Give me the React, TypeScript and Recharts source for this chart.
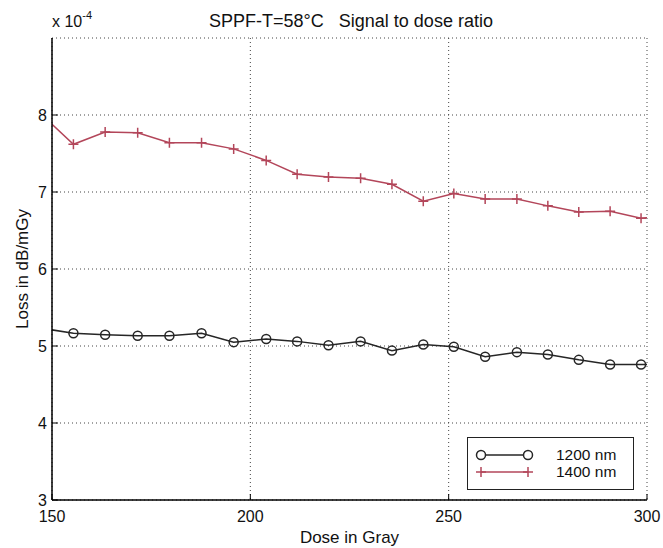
import {
  LineChart,
  Line,
  XAxis,
  YAxis,
  CartesianGrid,
  Legend,
} from "recharts";

// dose in Gray (first and last points sit just outside the axis limits and get clipped)
const dose = [
  147.5, 155.4, 163.4, 171.6, 179.6, 187.7, 195.8, 204.0, 211.8, 219.7, 227.8,
  235.7, 243.6, 251.3, 259.2, 267.2, 275.0, 282.8, 290.7, 298.5, 306,
];
// loss in dB/mGy, x 1e-4
const loss1200 = [
  5.23, 5.165, 5.147, 5.134, 5.134, 5.165, 5.05, 5.09, 5.06, 5.01, 5.06, 4.94,
  5.02, 4.99, 4.86, 4.92, 4.89, 4.82, 4.76, 4.76, 4.76,
];
const loss1400 = [
  8.0, 7.62, 7.78, 7.77, 7.64, 7.64, 7.56, 7.41, 7.23, 7.195, 7.18, 7.1, 6.88,
  6.98, 6.91, 6.91, 6.82, 6.74, 6.75, 6.66, 6.68,
];
const seriesNames = ["1200 nm", "1400 nm"];
const xTicks = [150, 200, 250, 300];
const yTicks = [3, 4, 5, 6, 7, 8];

const TITLE = "SPPF-T=58°C   Signal to dose ratio";
const FONT = "'Liberation Sans', Arial, Helvetica, sans-serif";
const RED = "#b3465a";
const DARK = "#262626";

const data = dose.map((d, i) => ({
  dose: d,
  nm1200: loss1200[i],
  nm1400: loss1400[i],
}));

const makeTick = (side: "bottom" | "top" | "left" | "right", showLabel: boolean) =>
  (props: any) => {
    const { x, y, payload } = props;
    let line;
    if (side === "bottom") line = <line x1={x} y1={y} x2={x} y2={y - 6} stroke="#000" />;
    else if (side === "top") line = <line x1={x} y1={y} x2={x} y2={y + 6} stroke="#000" />;
    else if (side === "left") line = <line x1={x} y1={y} x2={x + 6} y2={y} stroke="#000" />;
    else line = <line x1={x} y1={y} x2={x - 6} y2={y} stroke="#000" />;
    return (
      <g>
        {line}
        {showLabel && side === "bottom" && (
          <text x={x} y={y + 22} textAnchor="middle" fontSize={16} fill="#111">
            {payload.value}
          </text>
        )}
        {showLabel && side === "left" && (
          <text x={x - 5} y={y} dy="0.36em" textAnchor="end" fontSize={16} fill="#111">
            {payload.value}
          </text>
        )}
      </g>
    );
  };

const CircleDot = (p: any) => {
  if (p.cx == null || p.cy == null) return <g key={p.key} />;
  return (
    <circle key={p.key} cx={p.cx} cy={p.cy} r={4.5} fill="none" stroke={DARK} strokeWidth={1.5} />
  );
};

const PlusDot = (p: any) => {
  if (p.cx == null || p.cy == null) return <g key={p.key} />;
  return (
    <path
      key={p.key}
      d={`M${p.cx - 5},${p.cy}h10M${p.cx},${p.cy - 5}v10`}
      stroke={RED}
      strokeWidth={1.5}
    />
  );
};

const LegendBox = () => (
  <div
    style={{
      width: 167,
      height: 53,
      boxSizing: "border-box",
      border: "1.5px solid #222",
      background: "#fff",
      fontFamily: FONT,
      fontSize: 15.5,
      color: "#111",
      paddingTop: 8,
    }}
  >
    {seriesNames.map((name, i) => (
      <div key={name} style={{ display: "flex", alignItems: "center", height: 17 }}>
        <svg width={88} height={17} style={{ flex: "none" }}>
          {i === 0 ? (
            <g>
              <line x1={13} y1={9} x2={60} y2={9} stroke={DARK} strokeWidth={1.5} />
              <circle cx={13} cy={9} r={4.5} fill="#fff" stroke={DARK} strokeWidth={1.5} />
              <circle cx={60} cy={9} r={4.5} fill="#fff" stroke={DARK} strokeWidth={1.5} />
            </g>
          ) : (
            <g stroke={RED} strokeWidth={1.5}>
              <line x1={13} y1={9} x2={60} y2={9} />
              <path d="M8,9h10M13,4v10M55,9h10M60,4v10" />
            </g>
          )}
        </svg>
        <span style={{ lineHeight: "17px", whiteSpace: "nowrap" }}>{name}</span>
      </div>
    ))}
  </div>
);

export default function App() {
  return (
    <div
      style={{
        position: "absolute",
        left: 0,
        top: 0,
        width: 663,
        height: 548,
        background: "#fff",
        fontFamily: FONT,
      }}
    >
      <LineChart
        width={663}
        height={548}
        data={data}
        margin={{ top: 38, right: 16, left: 0, bottom: 0 }}
      >
        <CartesianGrid stroke="#444" strokeDasharray="1 3" strokeWidth={1} />
        <XAxis
          dataKey="dose"
          type="number"
          domain={[150, 300]}
          ticks={xTicks}
          allowDataOverflow
          height={48}
          tickSize={0}
          tickMargin={0}
          tick={makeTick("bottom", true)}
          axisLine={{ stroke: "#000", strokeWidth: 1.5 }}
          tickLine={false}
          label={{
            value: "Dose in Gray",
            position: "insideBottom",
            offset: 5,
            fontSize: 17,
            fill: "#111",
          }}
        />
        <XAxis
          xAxisId="top"
          orientation="top"
          type="number"
          domain={[150, 300]}
          ticks={xTicks}
          allowDataOverflow
          height={0}
          tickSize={0}
          tickMargin={0}
          tick={makeTick("top", false)}
          axisLine={{ stroke: "#000", strokeWidth: 1.5 }}
          tickLine={false}
        />
        <YAxis
          type="number"
          domain={[3, 9]}
          ticks={yTicks}
          allowDataOverflow
          width={52}
          tickSize={0}
          tickMargin={0}
          tick={makeTick("left", true)}
          axisLine={{ stroke: "#000", strokeWidth: 1.5 }}
          tickLine={false}
          label={{
            value: "Loss in dB/mGy",
            angle: -90,
            position: "insideLeft",
            offset: 22,
            fontSize: 17,
            fill: "#111",
            style: { textAnchor: "middle" },
          }}
        />
        <YAxis
          yAxisId="right"
          orientation="right"
          type="number"
          domain={[3, 9]}
          ticks={yTicks}
          allowDataOverflow
          width={0}
          tickSize={0}
          tickMargin={0}
          tick={makeTick("right", false)}
          axisLine={{ stroke: "#000", strokeWidth: 1.5 }}
          tickLine={false}
        />
        <Line
          type="linear"
          dataKey="nm1200"
          name={seriesNames[0]}
          stroke={DARK}
          strokeWidth={1.5}
          dot={CircleDot}
          activeDot={false}
          isAnimationActive={false}
        />
        <Line
          type="linear"
          dataKey="nm1400"
          name={seriesNames[1]}
          stroke={RED}
          strokeWidth={1.5}
          dot={PlusDot}
          activeDot={false}
          isAnimationActive={false}
        />
        <Legend
          layout="vertical"
          align="center"
          verticalAlign="middle"
          content={LegendBox}
          wrapperStyle={{ position: "absolute", left: 467, top: 437, width: 167, height: 53 }}
        />
      </LineChart>
      <svg
        width={663}
        height={36}
        style={{ position: "absolute", left: 0, top: 0, pointerEvents: "none" }}
      >
        <text x={52} y={27} fontSize={16} fill="#111" fontFamily={FONT}>
          x 10
          <tspan dy={-8} fontSize={11}>
            -4
          </tspan>
        </text>
        <text x={351} y={27} fontSize={18} fill="#111" textAnchor="middle" fontFamily={FONT}>
          {TITLE.replace(/ /g, "\u00a0")}
        </text>
      </svg>
    </div>
  );
}
